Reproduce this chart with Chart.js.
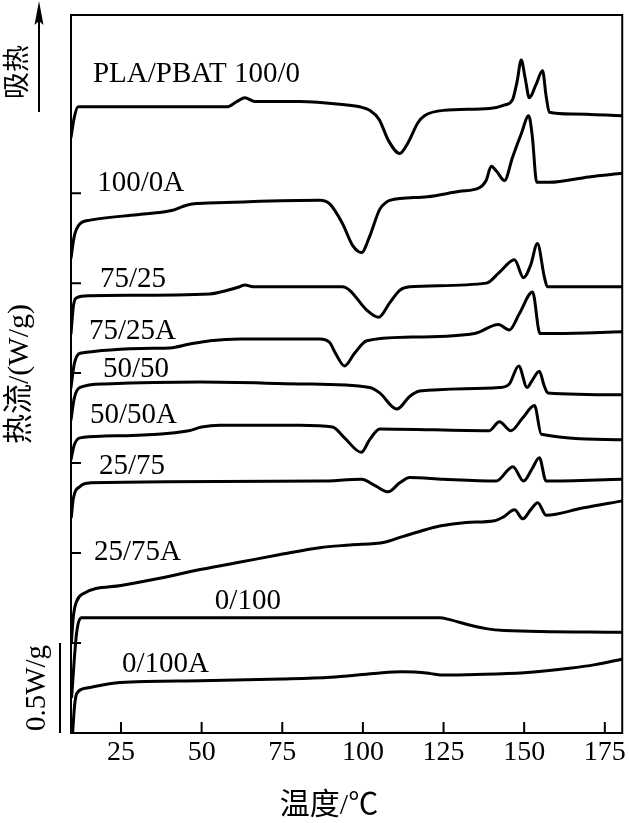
<!DOCTYPE html>
<html>
<head>
<meta charset="utf-8">
<script src="https://cdn.jsdelivr.net/npm/chart.js@4.4.0/dist/chart.umd.min.js"></script>
<style>
  html, body { margin: 0; padding: 0; background: #fff; }
  canvas { display: block; }
</style>
</head>
<body>
<canvas id="dsc" width="629" height="823"></canvas>
<script>
// DSC heating curves of PLA/PBAT blends, stacked (temperature in °C, heat flow in W/g, offset)
const curveNames = ["PLA/PBAT 100/0", "100/0A", "75/25", "75/25A", "50/50", "50/50A", "25/75", "25/75A", "0/100", "0/100A"];
const xTicks = [25, 50, 75, 100, 125, 150, 175];
const yTicks = [0.5, 1, 1.5, 2, 2.5, 3];

const c100_0 = [[9.5,3.31],[10.5,3.42],[11.7,3.48],[15,3.48],[57.8,3.48],[61,3.51],[63.4,3.53],[66.5,3.51],[80.4,3.51],[95,3.49],[99,3.48],[102.1,3.46],[105,3.41],[108,3.29],[111.4,3.22],[114,3.28],[117,3.39],[119.1,3.43],[125,3.46],[139.2,3.47],[144,3.49],[146.4,3.52],[147.8,3.62],[149.1,3.74],[150.3,3.64],[151.6,3.53],[153.6,3.6],[155.7,3.68],[156.8,3.54],[157.8,3.45],[165,3.44],[180.4,3.43]];
const c100_0A = [[9.5,2.64],[10.5,2.76],[12.3,2.83],[15.4,2.85],[30,2.88],[38,2.895],[41,2.905],[44,2.925],[47,2.94],[52,2.945],[60,2.95],[86.6,2.96],[89.7,2.94],[93.7,2.83],[96.8,2.71],[99.6,2.67],[102.1,2.76],[105.2,2.91],[107.3,2.95],[108.3,2.96],[120,2.98],[130,3.01],[136.1,3.03],[138.2,3.07],[139.8,3.15],[141.5,3.12],[143.9,3.07],[146.4,3.2],[149.1,3.33],[151.4,3.43],[152.5,3.32],[153.9,3.06],[157.8,3.06],[170,3.09],[180.4,3.11]];
const c75_25 = [[9.5,2.22],[10.3,2.38],[11.4,2.42],[15,2.43],[52.6,2.44],[58,2.46],[61.8,2.48],[63.4,2.49],[66,2.48],[93.7,2.48],[95.9,2.46],[101.2,2.35],[104.9,2.31],[108.3,2.39],[111.4,2.46],[114.5,2.48],[138.3,2.5],[142.3,2.56],[147,2.63],[149.8,2.53],[152,2.6],[154.1,2.72],[156.3,2.53],[157.2,2.48],[180.4,2.48]];
const c75_25A = [[9.5,1.92],[10.5,2.05],[12.3,2.11],[40.2,2.14],[46,2.16],[52.6,2.18],[62,2.19],[86.6,2.19],[89.7,2.17],[91.5,2.11],[94.3,2.04],[97.4,2.11],[101.2,2.18],[115,2.2],[134.6,2.22],[142,2.27],[145.4,2.24],[148.5,2.33],[152.6,2.45],[154.9,2.22],[160,2.22],[180.4,2.23]];
const c50_50 = [[9.5,1.74],[10.5,1.86],[12.3,1.92],[20,1.94],[49.5,1.95],[80.4,1.94],[102.1,1.92],[105.2,1.89],[110.5,1.8],[114.5,1.87],[117.6,1.9],[142.3,1.92],[145.4,1.94],[148.3,2.04],[150.9,1.92],[152.5,1.96],[154.7,2.01],[156.2,1.93],[157.3,1.89],[180.4,1.88]];
const c50_50A = [[9.5,1.52],[10.5,1.6],[12.3,1.64],[20,1.65],[46,1.68],[50,1.7],[55.7,1.71],[80.4,1.71],[90.6,1.7],[94.3,1.64],[99.5,1.56],[102.1,1.63],[105.2,1.69],[139.2,1.68],[142.3,1.73],[145.9,1.68],[149.5,1.75],[153.2,1.82],[155.3,1.66],[180.4,1.63]];
const c25_75 = [[9.6,1.2],[10.2,1.3],[12.3,1.37],[15.4,1.39],[86.6,1.4],[99.5,1.41],[104.2,1.37],[107.8,1.34],[111.4,1.39],[114.5,1.42],[125,1.41],[141.3,1.4],[146.5,1.48],[149.8,1.4],[152.5,1.47],[154.7,1.53],[156.8,1.4],[180.4,1.41]];
const c25_75A = [[9.6,0.5],[10.3,0.66],[11.2,0.73],[12.8,0.77],[25,0.82],[37,0.86],[50,0.91],[62,0.95],[74,0.99],[86.6,1.03],[96,1.045],[106.7,1.06],[112,1.09],[117.6,1.12],[123.8,1.15],[132,1.17],[140.8,1.18],[143.5,1.2],[147,1.24],[149.6,1.19],[152,1.24],[154.2,1.28],[156.8,1.21],[168,1.25],[180.4,1.29]];
const c0_100 = [[9.7,0.2],[11.2,0.55],[12.8,0.64],[123.8,0.64],[126.9,0.63],[133,0.6],[138.2,0.58],[143.9,0.57],[180.4,0.56]];
const c0_100A = [[10,0],[10.6,0.15],[11.3,0.22],[14.4,0.25],[24.7,0.28],[49.5,0.29],[75,0.3],[90,0.31],[100,0.325],[106,0.335],[112,0.34],[117,0.338],[121,0.33],[125,0.322],[135,0.325],[150,0.335],[164,0.36],[172,0.38],[180.4,0.41]];

const curves = [c100_0, c100_0A, c75_25, c75_25A, c50_50, c50_50A, c25_75, c25_75A, c0_100, c0_100A];

// where each curve name sits (left edge in °C, baseline in W/g)
const labelAt = [[16.3,3.62],[17.6,3.01],[18.5,2.48],[15.1,2.19],[19.4,1.98],[15.4,1.72],[18.2,1.44],[16.6,0.96],[54.1,0.69],[25.3,0.34]];

const SERIF = '"Liberation Serif", "Noto Sans CJK SC", serif';

const decor = {
  id: "decor",
  afterDatasetsDraw(chart) {
    const { ctx, chartArea: a, scales: { x, y } } = chart;
    ctx.save();
    ctx.strokeStyle = "#000";
    ctx.fillStyle = "#000";
    ctx.lineWidth = 2;
    ctx.strokeRect(a.left, a.top, a.right - a.left, a.bottom - a.top);

    // inward tick marks
    ctx.beginPath();
    x.ticks.forEach((t) => {
      const px = x.getPixelForValue(t.value);
      ctx.moveTo(px, a.bottom);
      ctx.lineTo(px, a.bottom - 11);
    });
    y.ticks.forEach((t) => {
      const py = y.getPixelForValue(t.value);
      ctx.moveTo(a.left, py);
      ctx.lineTo(a.left + 10, py);
    });
    ctx.stroke();

    // curve names
    ctx.font = "29px " + SERIF;
    ctx.textAlign = "left";
    ctx.textBaseline = "alphabetic";
    curveNames.forEach((n, i) => {
      ctx.fillText(n, x.getPixelForValue(labelAt[i][0]), y.getPixelForValue(labelAt[i][1]));
    });

    // endotherm arrow
    ctx.beginPath();
    ctx.moveTo(39, 112);
    ctx.lineTo(39, 16);
    ctx.stroke();
    ctx.beginPath();
    ctx.moveTo(39, 1);
    ctx.lineTo(34.5, 25);
    ctx.lineTo(39, 21);
    ctx.lineTo(43.5, 25);
    ctx.closePath();
    ctx.fill();

    ctx.save();
    ctx.translate(16, 72);
    ctx.rotate(-Math.PI / 2);
    ctx.font = '27px "Noto Sans CJK SC", sans-serif';
    ctx.textAlign = "center";
    ctx.textBaseline = "middle";
    ctx.fillText("吸热", 0, 0);
    ctx.restore();

    // 0.5 W/g scale bar
    const y0 = y.getPixelForValue(0);
    const y1 = y.getPixelForValue(0.5);
    ctx.beginPath();
    ctx.moveTo(60, y0);
    ctx.lineTo(60, y1);
    ctx.stroke();
    ctx.save();
    ctx.translate(37, (y0 + y1) / 2);
    ctx.rotate(-Math.PI / 2);
    ctx.font = "29px " + SERIF;
    ctx.textAlign = "center";
    ctx.textBaseline = "middle";
    ctx.fillText("0.5W/g", 0, 0);
    ctx.restore();

    // x axis title
    ctx.font = "30px " + SERIF;
    ctx.textAlign = "center";
    ctx.textBaseline = "middle";
    ctx.fillText("温度/℃", 329, 806);
    ctx.restore();
  },
};

new Chart(document.getElementById("dsc"), {
  type: "line",
  data: {
    datasets: curves.map((d, i) => ({
      label: curveNames[i],
      data: d,
      borderColor: "#000",
      borderWidth: 3,
      pointRadius: 0,
      fill: false,
      cubicInterpolationMode: "monotone",
      borderJoinStyle: "round",
      borderCapStyle: "round",
    })),
  },
  options: {
    responsive: false,
    animation: false,
    layout: { padding: { left: 0, right: 6, top: 15, bottom: 0 } },
    plugins: { legend: { display: false }, tooltip: { enabled: false } },
    scales: {
      x: {
        type: "linear",
        min: 9.5,
        max: 180.4,
        grid: { display: false, drawTicks: false },
        border: { display: false },
        afterBuildTicks: (s) => { s.ticks = xTicks.map((v) => ({ value: v })); },
        afterFit: (s) => { s.height = 90; },
        ticks: { color: "#000", padding: 3, font: { family: SERIF, size: 28 } },
      },
      y: {
        type: "linear",
        min: 0,
        max: 3.99,
        grid: { display: false, drawTicks: false },
        border: { display: false },
        afterBuildTicks: (s) => { s.ticks = yTicks.map((v) => ({ value: v })); },
        afterFit: (s) => { s.width = 71; },
        ticks: { display: false },
        title: {
          display: true,
          text: "热流/(W/g)",
          color: "#000",
          padding: { top: 2, bottom: 0 },
          font: { family: SERIF, size: 30 },
        },
      },
    },
  },
  plugins: [decor],
});
</script>
</body>
</html>
